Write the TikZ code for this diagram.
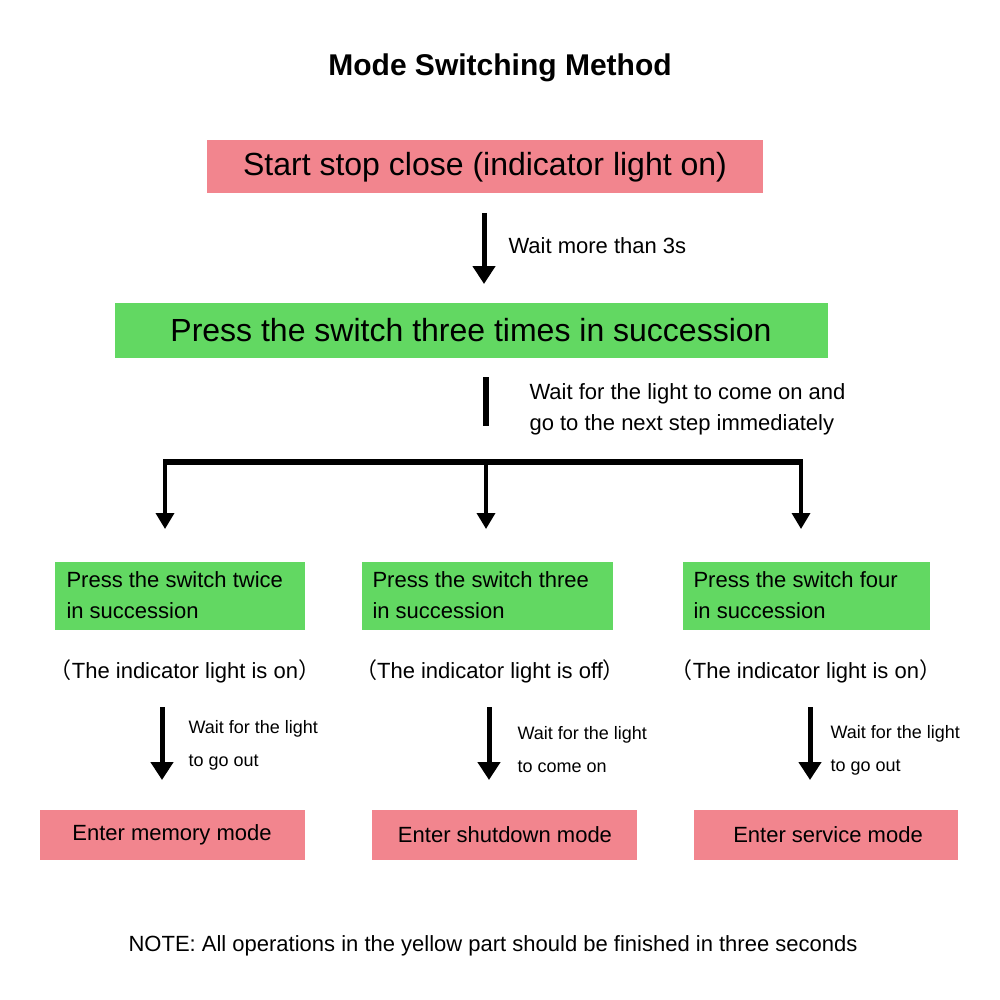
\documentclass[tikz,border=0pt]{standalone}
\usepackage{fontspec}
\setmainfont{Liberation Sans}
\newfontfamily\cjk{Noto Sans CJK SC}
\usetikzlibrary{arrows.meta}
\definecolor{pinkbox}{HTML}{F2858E}
\definecolor{greenbox}{HTML}{62D862}
\begin{document}
\begin{tikzpicture}[x=1pt,y=-1pt,
  big/.style={font=\fontsize{32}{36}\selectfont},
  mid/.style={font=\fontsize{22}{31}\selectfont},
  sm/.style={font=\fontsize{18}{33}\selectfont},
  arr/.style={line width=5pt,-{Triangle[length=18pt,width=22pt]}},
  arr2/.style={line width=3.5pt,-{Triangle[length=16pt,width=18pt]}}]
\useasboundingbox (0,0) rectangle (1000,1000);
\node[font=\fontsize{30}{34}\selectfont\bfseries] (title) at (500,68) {Mode Switching Method};
\fill[pinkbox] (207,140) rectangle (763,193);
\node[big] (start) at (485,167) {Start stop close (indicator light on)};
\coordinate (a1) at (484,213); \coordinate (a2) at (484,284);
\draw[arr] (a1) -- (a2);
\node[mid,anchor=west] (w3) at (505,246) {Wait more than 3s};
\fill[greenbox] (115,303) rectangle (828,358);
\node[big] (press) at (471,330) {Press the switch three times in succession};
\coordinate (b1) at (486,377); \coordinate (b2) at (486,426);
\draw[line width=6pt] (b1) -- (b2);
\node[mid,anchor=west,align=left] (wl) at (526,409) {Wait for the light to come on and\\go to the next step immediately};
\coordinate (h1) at (163,462); \coordinate (h2) at (803,462);
\draw[line width=6pt] (h1) -- (h2);
\foreach \x/\n in {165/l,486/m,801/r}{
  \coordinate (t\n) at (\x,460); \coordinate (u\n) at (\x,529);
  \draw[arr2] (t\n) -- (u\n);}
\fill[greenbox] (55,562) rectangle (305,630);
\fill[greenbox] (362,562) rectangle (613,630);
\fill[greenbox] (683,562) rectangle (930,630);
\node[mid,anchor=west,align=left] (g1) at (63,595) {Press the switch twice\\in succession};
\node[mid,anchor=west,align=left] (g2) at (369,595) {Press the switch three\\in succession};
\node[mid,anchor=west,align=left] (g3) at (690,595) {Press the switch four\\in succession};
\node[mid] (p1) at (185,671) {{\cjk （}The indicator light is on{\cjk ）}};
\node[mid] (p2) at (490,671) {{\cjk （}The indicator light is off{\cjk ）}};
\node[mid] (p3) at (806,671) {{\cjk （}The indicator light is on{\cjk ）}};
\foreach \x/\n in {162/l,489/m,810/r}{
  \coordinate (c\n) at (\x,707); \coordinate (d\n) at (\x,780);
  \draw[arr] (c\n) -- (d\n);}
\node[sm,anchor=west,align=left] (s1) at (185,745) {Wait for the light\\to go out};
\node[sm,anchor=west,align=left] (s2) at (514,750) {Wait for the light\\to come on};
\node[sm,anchor=west,align=left] (s3) at (827,750) {Wait for the light\\to go out};
\fill[pinkbox] (40,810) rectangle (305,860);
\fill[pinkbox] (372,810) rectangle (637,860);
\fill[pinkbox] (694,810) rectangle (958,860);
\node[mid] (e1) at (172,835) {Enter memory mode};
\node[mid] (e2) at (505,835) {Enter shutdown mode};
\node[mid] (e3) at (828,835) {Enter service mode};
\node[mid] (note) at (493,946) {NOTE: All operations in the yellow part should be finished in three seconds};
\end{tikzpicture}
\end{document}
